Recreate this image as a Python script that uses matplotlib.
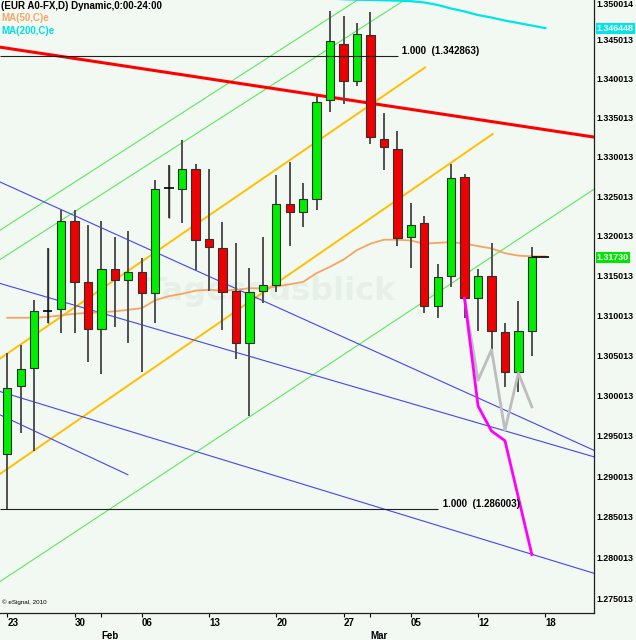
import matplotlib
matplotlib.use('Agg')
import matplotlib.pyplot as plt
from matplotlib.ticker import FixedLocator, FixedFormatter, NullLocator, NullFormatter

# 字体：粗体，接近 eSignal 的样式
plt.rcParams['font.family'] = ['Liberation Sans', 'DejaVu Sans']

# 日K数据 (EUR/USD, 1月23日 - 3月16日)
opens = [1.2928, 1.3012, 1.3034, 1.3105, 1.3108, 1.3218, 1.3142, 1.3083, 1.3158, 1.3144,
         1.3154, 1.3128, 1.3260, 1.3259, 1.3284, 1.3196, 1.3184, 1.3131, 1.3066, 1.3130,
         1.3138, 1.3240, 1.3230, 1.3247, 1.3372, 1.3444, 1.3397, 1.3456, 1.3322, 1.3310,
         1.3198, 1.3216, 1.3112, 1.3149, 1.3274, 1.3122, 1.3149, 1.3079, 1.3029, 1.3080]
highs = [1.3053, 1.3063, 1.3119, 1.3184, 1.3233, 1.3233, 1.3214, 1.3219, 1.3198, 1.3206,
         1.3172, 1.3271, 1.3290, 1.3321, 1.3291, 1.3284, 1.3217, 1.3191, 1.3159, 1.3198,
         1.3277, 1.3293, 1.3267, 1.3377, 1.3486, 1.3480, 1.3471, 1.3485, 1.3356, 1.3333,
         1.3242, 1.3225, 1.3164, 1.3291, 1.3278, 1.3158, 1.3191, 1.3090, 1.3118, 1.3186]
lows = [1.2860, 1.2953, 1.2931, 1.3091, 1.3078, 1.3078, 1.3042, 1.3027, 1.3086, 1.3066,
        1.3029, 1.3090, 1.3222, 1.3216, 1.3157, 1.3130, 1.3082, 1.3045, 1.2975, 1.3116,
        1.3129, 1.3187, 1.3211, 1.3232, 1.3357, 1.3367, 1.3390, 1.3316, 1.3283, 1.3187,
        1.3160, 1.3103, 1.3097, 1.3135, 1.3097, 1.3080, 1.3053, 1.3011, 1.3005, 1.3049]
closes = [1.3009, 1.3033, 1.3105, 1.3105, 1.3218, 1.3142, 1.3083, 1.3158, 1.3144, 1.3154,
          1.3128, 1.3259, 1.3260, 1.3285, 1.3195, 1.3186, 1.3129, 1.3066, 1.3129, 1.3138,
          1.3240, 1.3230, 1.3246, 1.3370, 1.3448, 1.3397, 1.3457, 1.3325, 1.3312, 1.3197,
          1.3213, 1.3112, 1.3148, 1.3273, 1.3122, 1.3149, 1.3081, 1.3029, 1.3080, 1.3173]

# 均线 MA(50) 从第0根开始，MA(200) 从第24根开始
ma50 = [1.3097, 1.3097, 1.3097, 1.3098, 1.3100, 1.3102, 1.3103, 1.3104, 1.3105, 1.3107,
        1.3109, 1.3119, 1.3124, 1.3127, 1.3131, 1.3132, 1.3131, 1.3132, 1.3134, 1.3134,
        1.3136, 1.3139, 1.3142, 1.3153, 1.3161, 1.3170, 1.3182, 1.3190, 1.3195, 1.3195,
        1.3194, 1.3190, 1.3191, 1.3192, 1.3190, 1.3187, 1.3184, 1.3178, 1.3175, 1.3174,
        1.3174]
ma200_start = 24
ma200 = [1.35026, 1.35017, 1.35011, 1.35007, 1.35003, 1.34999, 1.34992, 1.34975, 1.34943,
         1.34897, 1.34859, 1.34813, 1.34781, 1.34742, 1.34710, 1.34678, 1.346448]

# 预测路径
pink_x = [34, 35, 36, 37, 39]
pink_y = [1.3121, 1.2987, 1.2956, 1.2944, 1.2804]
gray_x = [34, 35, 36, 37, 38, 39]
gray_y = [1.3121, 1.3019, 1.3057, 1.2957, 1.3028, 1.2986]

# 趋势线 (K线序号, 价格)
red_line = ([-0.54, 43.64], [1.3440, 1.3325])
green_lines = [([-0.54, 26.07], [1.3207, 1.3501]),
               ([-0.54, 29.57], [1.3170, 1.3501]),
               ([-0.54, 43.64], [1.2771, 1.3259])]
yellow_lines = [([-0.54, 31.06], [1.3046, 1.3414]),
                ([-0.54, 36.09], [1.2903, 1.3329])]
blue_lines = [([-0.54, 43.64], [1.3268, 1.2932]),
              ([-0.54, 43.64], [1.3140, 1.2924]),
              ([-0.54, 43.64], [1.3005, 1.2781]),
              ([-0.54, 8.97], [1.2976, 1.2902])]

# 斐波那契 1.000 水平线
fib_levels = [1.342863, 1.286003]
fib_ends = [29.03, 32.05]

# 坐标轴刻度
week_pos = [0, 5, 10, 15, 20, 25, 30, 35, 40]
week_labels = ['23', '30', '06', '13', '20', '27', '05', '12', '18']
month_pos = [7, 27]
month_labels = ['Feb', 'Mar']
price_ticks = [1.275013, 1.280013, 1.285013, 1.290013, 1.295013, 1.300013, 1.305013,
               1.310013, 1.315013, 1.320013, 1.325013, 1.330013, 1.335013, 1.340013,
               1.345013, 1.350014]

bg = '#f2f8f2'
fig = plt.figure(figsize=(6.36, 6.40), dpi=100, facecolor=bg)
ax = fig.add_axes([0, 0.0427, 0.9344, 0.9573], facecolor=bg)
ax.set_yscale('log')
ax.set_xlim(-0.54, 43.64)
ax.set_ylim(1.27331, 1.35007)

# 水印
wm = '#e7f0e7'
ax.text(0.455, 0.525, 'Tagesausblick', transform=ax.transAxes, ha='center', va='center',
        fontsize=23, fontweight='bold', color=wm, family='DejaVu Sans', zorder=0)
ax.text(0.705, 0.49, 'de', transform=ax.transAxes, ha='center', va='center',
        fontsize=6, color=wm, zorder=0)
ax.text(0.73, 0.522, '\u2713', transform=ax.transAxes, ha='center', va='center',
        fontsize=22, color=wm, family='DejaVu Sans', zorder=0)

# 趋势线
for xs, ys in green_lines:
    ax.plot(xs, ys, color='#5ee85e', lw=0.8, zorder=1)
for xs, ys in yellow_lines:
    ax.plot(xs, ys, color='#ffc000', lw=1.4, zorder=1)
for xs, ys in blue_lines:
    ax.plot(xs, ys, color='#4646f0', lw=0.8, zorder=1)
ax.plot(red_line[0], red_line[1], color='#ff0000', lw=2.2, zorder=1)

# 均线
ax.plot(range(len(ma50)), ma50, color='#f5a562', lw=1.3, zorder=2)
ax.plot(range(ma200_start, ma200_start + len(ma200)), ma200, color='#00e6e6', lw=1.6,
        zorder=2)

# K线
n = len(closes)
xs = list(range(n))
ax.vlines(xs, lows, highs, color='#505050', lw=1.4, zorder=3)
for i in range(n):
    o, c = opens[i], closes[i]
    if o == c:
        ax.hlines(c, i - 0.36, i + 0.36, color='black', lw=1.2, zorder=4)
        ax.vlines(i, lows[i], highs[i], color='#303030', lw=1.0, zorder=3)
        continue
    col = '#00ee00' if c > o else '#ee0000'
    ax.bar(i, abs(c - o), bottom=min(o, c), width=0.62, color=col,
           edgecolor='#303030', lw=0.8, zorder=4)
ax.hlines(closes[-1], n - 1, n + 0.3, color='black', lw=1.2, zorder=5)

# 预测路径
ax.plot(gray_x, gray_y, color='#bdbdbd', lw=2.0, zorder=5)
ax.plot(pink_x, pink_y, color='#ff00ff', lw=2.0, zorder=6)

# 水平线及标注
for lvl, end in zip(fib_levels, fib_ends):
    ax.hlines(lvl, -0.54, end, color='#202020', lw=0.8, zorder=6)
    ax.text(end + 0.1, lvl, f' 1.000  ({lvl:.6f})', ha='left', va='bottom',
            fontsize=7, fontweight='bold', color='black', zorder=6)

# 图例文字
ax.text(0.002, 0.998, '(EUR A0-FX,D) Dynamic,0:00-24:00', transform=ax.transAxes,
        ha='left', va='top', fontsize=7, fontweight='bold', color='black')
ax.text(0.002, 0.979, 'MA(50,C)e', transform=ax.transAxes, ha='left', va='top',
        fontsize=7, fontweight='bold', color='#f2a868')
ax.text(0.002, 0.958, 'MA(200,C)e', transform=ax.transAxes, ha='left', va='top',
        fontsize=7, fontweight='bold', color='#00e0e0')
ax.text(0.004, 0.012, '\u00a9 eSignal, 2010', transform=ax.transAxes, ha='left',
        va='bottom', fontsize=4.5, color='black')

# 右侧价格标签
ax.yaxis.tick_right()
ax.yaxis.set_major_locator(FixedLocator(price_ticks))
ax.yaxis.set_major_formatter(FixedFormatter([f'{p:.6f}' for p in price_ticks]))
ax.yaxis.set_minor_locator(NullLocator())
ax.yaxis.set_minor_formatter(NullFormatter())
ax.tick_params(axis='y', which='major', length=0, pad=1.5, labelsize=6.4)
for lab in ax.get_yticklabels():
    lab.set_fontweight('bold')
ax.get_yticklabels()[-1].set_va('top')

for val, fc, txt in [(ma200[-1], '#00e6e6', f'{ma200[-1]:.6f}'),
                     (closes[-1], '#00e600', f'{closes[-1]:.5f}')]:
    ax.text(1.004, val, txt, transform=ax.get_yaxis_transform(), ha='left', va='center',
            fontsize=6.4, fontweight='bold', color='white', clip_on=False, zorder=7,
            bbox=dict(boxstyle='square,pad=0.12', fc=fc, ec='none'))

# 底部日期
ax.xaxis.set_major_locator(FixedLocator(week_pos))
ax.xaxis.set_major_formatter(FixedFormatter(week_labels))
ax.xaxis.set_minor_locator(FixedLocator(month_pos))
ax.xaxis.set_minor_formatter(FixedFormatter(month_labels))
ax.tick_params(axis='x', which='major', length=3, width=0.8, pad=1, labelsize=7)
ax.tick_params(axis='x', which='minor', length=3, width=0.8, pad=10, labelsize=7)
for lab in ax.get_xticklabels() + ax.get_xticklabels(minor=True):
    lab.set_ha('left')
    lab.set_fontweight('bold')

for side in ['top', 'left']:
    ax.spines[side].set_visible(False)
for side in ['bottom', 'right']:
    ax.spines[side].set_color('#202020')
    ax.spines[side].set_linewidth(0.9)

fig.savefig('out.png', dpi=100, facecolor=bg)
